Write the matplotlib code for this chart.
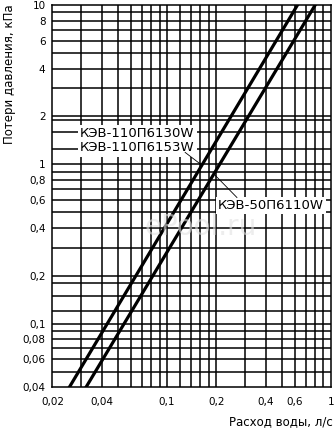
import matplotlib
matplotlib.use('Agg')
import matplotlib.pyplot as plt
from matplotlib.ticker import FixedLocator, FixedFormatter, NullLocator

# straight lines on log-log, read at the frame edges
flow_110 = [0.0254, 0.624]
dp_110 = [0.04, 10]
flow_50 = [0.0321, 0.80]
dp_50 = [0.04, 10]

label_110 = 'КЭВ-110П6130W\nКЭВ-110П6153W'
label_50 = 'КЭВ-50П6110W'

x_ticks = [0.02, 0.04, 0.1, 0.2, 0.4, 0.6, 1]
x_ticklabels = ['0,02', '0,04', '0,1', '0,2', '0,4', '0,6', '1']
y_ticks = [0.04, 0.06, 0.08, 0.1, 0.2, 0.4, 0.6, 0.8, 1, 2, 4, 6, 8, 10]
y_ticklabels = ['0,04', '0,06', '0,08', '0,1', '0,2', '0,4', '0,6', '0,8',
                '1', '2', '4', '6', '8', '10']

x_grid = [0.03, 0.04, 0.05, 0.06, 0.07, 0.08, 0.09, 0.1, 0.12, 0.14, 0.16, 0.18,
          0.2, 0.3, 0.4, 0.5, 0.6, 0.7, 0.8, 0.9]
y_grid = [0.05, 0.06, 0.07, 0.08, 0.09, 0.1, 0.12, 0.15, 0.18, 0.2, 0.3, 0.4, 0.5,
          0.6, 0.7, 0.8, 0.9, 1, 1.25, 1.6, 1.9, 2, 3, 4, 5, 6, 7, 8, 9]

fig = plt.figure(figsize=(3.36, 4.32), dpi=100)
ax = fig.add_axes([0.156, 0.104, 0.829, 0.884])
ax.set_xscale('log')
ax.set_yscale('log')
ax.set_xlim(0.02, 1)
ax.set_ylim(0.04, 10)

for v in x_grid:
    ax.axvline(v, color='black', lw=1.1, zorder=1)
for v in y_grid:
    ax.axhline(v, color='black', lw=1.1, zorder=1)

ax.plot(flow_110, dp_110, color='black', lw=2.3, zorder=3)
ax.plot(flow_50, dp_50, color='black', lw=2.3, zorder=3)

# labels with white background and leader lines
ax.text(0.0295, 1.41, label_110, fontsize=9.5, va='center', ha='left', linespacing=1.15,
        bbox=dict(facecolor='white', edgecolor='none', pad=1.5), zorder=4)
ax.plot([0.129, 0.163], [1.19, 0.99], color='black', lw=0.6, zorder=4)
ax.text(0.205, 0.552, label_50, fontsize=9.5, va='center', ha='left',
        bbox=dict(facecolor='white', edgecolor='none', pad=1.5), zorder=4)
ax.plot([0.267, 0.197], [0.62, 0.853], color='black', lw=0.6, zorder=4)

ax.xaxis.set_major_locator(FixedLocator(x_ticks))
ax.xaxis.set_major_formatter(FixedFormatter(x_ticklabels))
ax.xaxis.set_minor_locator(NullLocator())
ax.yaxis.set_major_locator(FixedLocator(y_ticks))
ax.yaxis.set_major_formatter(FixedFormatter(y_ticklabels))
ax.yaxis.set_minor_locator(NullLocator())
ax.tick_params(length=0, labelsize=7.5, pad=5)
ax.tick_params(axis='x', pad=7)
for s in ax.spines.values():
    s.set_linewidth(1.1)

fig.text(0.028, 0.99, 'Потери давления, кПа', rotation=90, fontsize=8.5,
         va='top', ha='center')
fig.text(0.99, 0.025, 'Расход воды, л/с', fontsize=8.5, ha='right', va='center')

# faint watermark
fig.text(0.43, 0.455, 'ePool.ru', fontsize=20, color='#e2e2e2', alpha=0.6, zorder=0)

fig.savefig('out.png', dpi=100)
